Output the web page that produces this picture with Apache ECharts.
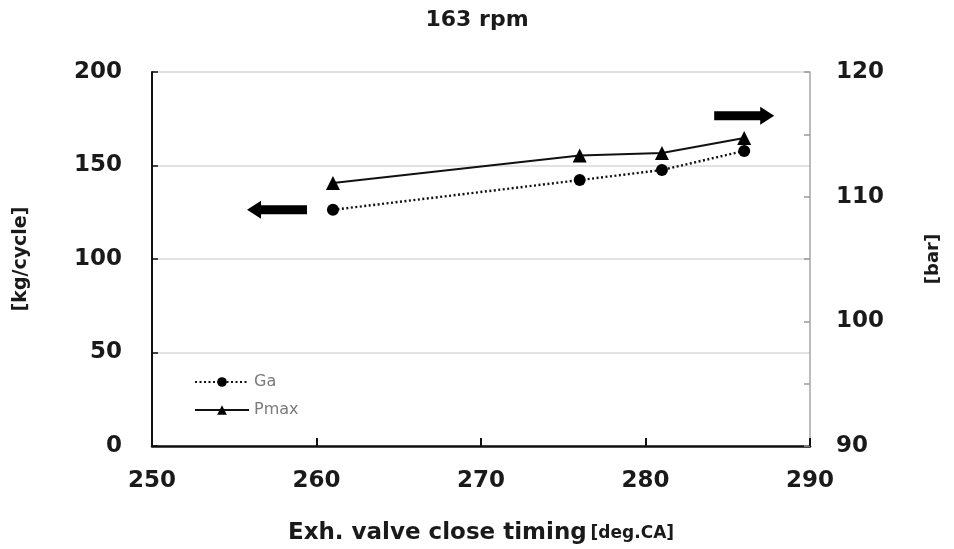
<!DOCTYPE html>
<html>
<head>
<meta charset="utf-8">
<script src="https://cdn.jsdelivr.net/npm/echarts@6/dist/echarts.min.js"></script>
<style>
  html, body { margin: 0; padding: 0; background: #fff; }
  #chart { width: 954px; height: 549px; }
</style>
</head>
<body>
<div id="chart"></div>
<script>
// Exhaust valve close timing [deg.CA]
const timing = [261, 276, 281, 286];
// Scavenge air flow Ga [kg/cycle]
const gaValues = [126.3, 142.2, 147.6, 157.8];
// Peak cylinder pressure Pmax [bar]
const pmaxValues = [111.1, 113.3, 113.5, 114.7];
// Axis ranges
const xRange = [250, 290];
const leftRange = [0, 200];
const rightRange = [90, 120];

const FONT = '"DejaVu Sans", "Noto Sans", sans-serif';
const INK = '#1a1a1a';

// Direction arrows telling which axis each curve belongs to
const arrowRight = 'path://M0,4.5 L46,4.5 L46,0 L60,9 L46,18 L46,13.5 L0,13.5 Z';
const arrowLeft = 'path://M60,4.5 L14,4.5 L14,0 L0,9 L14,18 L14,13.5 L60,13.5 Z';

const chart = echarts.init(document.getElementById('chart'));
chart.setOption({
  animation: false,
  textStyle: { fontFamily: FONT },
  title: {
    text: '163 rpm',
    left: 'center',
    top: 4,
    textStyle: { fontSize: 22, fontWeight: 'bold', color: INK, fontFamily: FONT }
  },
  grid: { left: 152, right: 144, top: 72, bottom: 103, outerBoundsMode: 'none', containLabel: false },
  legend: {
    orient: 'vertical',
    left: 189,
    top: 369,
    itemWidth: 54,
    itemHeight: 12,
    itemGap: 12,
    textStyle: { color: '#7a7a7a', fontSize: 16, fontFamily: FONT },
    data: ['Ga', 'Pmax']
  },
  xAxis: {
    type: 'value',
    min: xRange[0],
    max: xRange[1],
    interval: 10,
    name: '{a|Exh. valve close timing} {b|[deg.CA]}',
    nameLocation: 'middle',
    nameGap: 76,
    nameTextStyle: {
      rich: {
        a: { fontSize: 23, fontWeight: 'bold', color: INK, fontFamily: FONT },
        b: { fontSize: 17, fontWeight: 'bold', color: INK, fontFamily: FONT }
      }
    },
    axisLine: { lineStyle: { color: '#111', width: 2.5 } },
    axisTick: { inside: true, length: 8, lineStyle: { color: '#111', width: 2 } },
    axisLabel: { fontSize: 23, fontWeight: 'bold', color: INK, margin: 24 },
    splitLine: { show: false }
  },
  yAxis: [
    {
      type: 'value',
      min: leftRange[0],
      max: leftRange[1],
      interval: 50,
      name: '[kg/cycle]',
      nameLocation: 'middle',
      nameGap: 121,
      nameRotate: 90,
      nameTextStyle: { fontSize: 19, fontWeight: 'bold', color: INK, fontFamily: FONT },
      axisLine: { show: true, lineStyle: { color: '#111', width: 2 } },
      axisTick: { show: true, inside: true, length: 6, lineStyle: { color: '#111', width: 1.5 } },
      axisLabel: { fontSize: 23, fontWeight: 'bold', color: INK, margin: 30 },
      splitLine: { show: true, lineStyle: { color: '#d9d9d9', width: 1.5 } }
    },
    {
      type: 'value',
      min: rightRange[0],
      max: rightRange[1],
      interval: 5,
      name: '[bar]',
      nameLocation: 'middle',
      nameGap: 114,
      nameRotate: 90,
      nameTextStyle: { fontSize: 18, fontWeight: 'bold', color: INK, fontFamily: FONT },
      axisLine: { show: true, lineStyle: { color: '#a6a6a6', width: 1.5 } },
      axisTick: { show: true, inside: true, length: 6, lineStyle: { color: '#999', width: 1.5 } },
      axisLabel: {
        fontSize: 23, fontWeight: 'bold', color: INK, margin: 26,
        formatter: v => (v % 10 === 0 ? String(v) : '')
      },
      splitLine: { show: false }
    }
  ],
  series: [
    {
      name: 'Ga',
      type: 'line',
      yAxisIndex: 0,
      data: timing.map((x, i) => [x, gaValues[i]]),
      symbol: 'circle',
      symbolSize: 12,
      itemStyle: { color: '#000' },
      lineStyle: { color: '#111', width: 2.4, type: [2, 2.5] },
      markPoint: {
        silent: true,
        label: { show: false },
        data: [{ coord: [257.6, 126.3], symbol: arrowLeft, symbolSize: [60, 18], itemStyle: { color: '#000' } }]
      }
    },
    {
      name: 'Pmax',
      type: 'line',
      yAxisIndex: 1,
      data: timing.map((x, i) => [x, pmaxValues[i]]),
      symbol: 'triangle',
      symbolSize: 14,
      itemStyle: { color: '#000' },
      lineStyle: { color: '#111', width: 2 },
      markPoint: {
        silent: true,
        label: { show: false },
        data: [{ coord: [286.0, 116.5], symbol: arrowRight, symbolSize: [60, 18], itemStyle: { color: '#000' } }]
      }
    }
  ]
});
</script>
</body>
</html>
